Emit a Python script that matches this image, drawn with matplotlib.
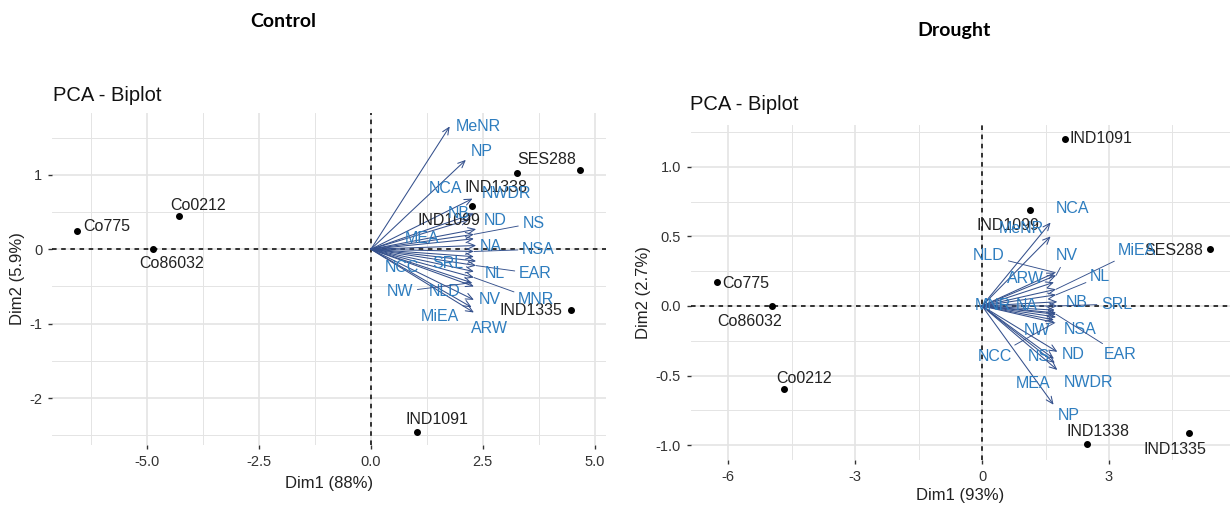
import matplotlib
matplotlib.use("Agg")
import matplotlib.pyplot as plt
from matplotlib.ticker import MultipleLocator

plt.rcParams["font.family"] = ["Liberation Sans", "DejaVu Sans"]

# ---- Control: individuals ----
ctrl_ind = ["Co775", "Co0212", "Co86032", "SES288", "IND1338", "IND1099", "IND1335", "IND1091"]
ctrl_ind_x = [-6.57, -4.28, -4.86, 4.68, 3.27, 2.25, 4.46, 1.03]
ctrl_ind_y = [0.245, 0.45, 0.0, 1.07, 1.02, 0.58, -0.81, -2.45]

# ---- Control: variables (arrow tips) ----
ctrl_var = ["MeNR", "NP", "NCA", "NWDR", "NB", "ND", "NS", "MEA", "NA", "NSA",
            "NCC", "SRL", "EAR", "NL", "MNR", "NLD", "NW", "NV", "MiEA", "ARW"]
ctrl_var_x = [1.76, 2.12, 2.27, 2.30, 2.20, 2.35, 2.30, 2.30, 2.35, 2.30,
              2.30, 2.35, 2.35, 2.30, 2.30, 2.30, 2.25, 2.30, 2.25, 2.30]
ctrl_var_y = [1.65, 1.20, 0.68, 0.48, 0.40, 0.27, 0.20, 0.14, 0.05, -0.03,
              -0.10, -0.16, -0.22, -0.30, -0.38, -0.50, -0.45, -0.68, -0.78, -0.85]

# ---- Drought: individuals ----
dr_ind = ["Co775", "Co86032", "Co0212", "IND1091", "IND1099", "SES288", "IND1338", "IND1335"]
dr_ind_x = [-6.27, -4.97, -4.68, 1.95, 1.13, 5.39, 2.49, 4.88]
dr_ind_y = [0.17, 0.0, -0.60, 1.20, 0.69, 0.41, -0.99, -0.91]

# ---- Drought: variables (arrow tips) ----
dr_var = ["NCA", "MeNR", "NLD", "NV", "ARW", "MiEA", "NL", "NB", "SRL", "NA",
          "MNR", "NSA", "EAR", "NW", "NCC", "ND", "NS", "NWDR", "MEA", "NP"]
dr_var_x = [1.62, 1.62, 1.73, 1.75, 1.70, 1.75, 1.75, 1.78, 1.78, 1.72,
            1.75, 1.75, 1.75, 1.70, 1.72, 1.78, 1.72, 1.78, 1.70, 1.69]
dr_var_y = [0.60, 0.50, 0.24, 0.22, 0.17, 0.12, 0.08, 0.03, 0.00, -0.03,
            -0.05, -0.08, -0.06, -0.10, -0.12, -0.33, -0.41, -0.46, -0.38, -0.71]

# label placement (repelled positions) and which get a segment
ctrl_ind_lab = {"Co775": (-5.89, 0.31), "Co0212": (-3.87, 0.59), "Co86032": (-4.44, -0.19),
                "SES288": (3.92, 1.21), "IND1338": (2.80, 0.83), "IND1099": (1.75, 0.38),
                "IND1335": (3.58, -0.82), "IND1091": (1.47, -2.29)}
ctrl_var_lab = {"MeNR": (2.39, 1.65), "NP": (2.48, 1.31), "NCA": (1.67, 0.82), "NWDR": (3.02, 0.75),
                "NB": (1.97, 0.48), "ND": (2.77, 0.38), "NS": (3.63, 0.35), "MEA": (1.15, 0.15),
                "NA": (2.68, 0.03), "NSA": (3.74, 0.0), "NCC": (0.70, -0.24), "SRL": (1.71, -0.19),
                "EAR": (3.67, -0.33), "NL": (2.77, -0.33), "MNR": (3.69, -0.68), "NLD": (1.64, -0.57),
                "NW": (0.65, -0.57), "NV": (2.65, -0.68), "MiEA": (1.53, -0.91), "ARW": (2.65, -1.06)}
ctrl_seg = {"NS", "NSA", "EAR", "MNR", "NW"}

dr_ind_lab = {"Co775": (-5.59, 0.16), "Co86032": (-5.50, -0.115), "Co0212": (-4.20, -0.52),
              "IND1091": (2.80, 1.20), "IND1099": (0.62, 0.58), "SES288": (4.52, 0.40),
              "IND1338": (2.75, -0.90), "IND1335": (4.56, -1.03)}
dr_var_lab = {"NCA": (2.14, 0.70), "MeNR": (0.93, 0.56), "NLD": (0.15, 0.36), "NV": (2.0, 0.36),
              "ARW": (1.02, 0.20), "MiEA": (3.66, 0.40), "NL": (2.79, 0.21), "NB": (2.24, 0.026),
              "SRL": (3.18, 0.014), "NA": (1.05, 0.0), "MNR": (0.25, 0.0), "NSA": (2.32, -0.17),
              "EAR": (3.26, -0.35), "NW": (1.29, -0.18), "NCC": (0.31, -0.36), "ND": (2.16, -0.35),
              "NS": (1.33, -0.36), "NWDR": (2.51, -0.55), "MEA": (1.20, -0.56), "NP": (2.04, -0.79)}
dr_seg = {"NLD", "NV", "MiEA", "NL", "SRL", "EAR", "NCC"}

ARROW = "#34508C"
VTEXT = "#2E7DBF"
GRID = "#E4E4E4"


def biplot(ax, ind, ix, iy, ind_lab, var, vx, vy, var_lab, seg, xlim, ylim, xmaj, xmin, ymaj, ymin, xfmt, yfmt):
    ax.set_xlim(*xlim)
    ax.set_ylim(*ylim)
    ax.xaxis.set_major_locator(MultipleLocator(xmaj))
    ax.xaxis.set_minor_locator(MultipleLocator(xmin))
    ax.yaxis.set_major_locator(MultipleLocator(ymaj))
    ax.yaxis.set_minor_locator(MultipleLocator(ymin))
    ax.xaxis.set_major_formatter(xfmt)
    ax.yaxis.set_major_formatter(yfmt)
    ax.grid(True, which="major", color=GRID, linewidth=1.2)
    ax.grid(True, which="minor", color=GRID, linewidth=0.7)
    ax.set_axisbelow(True)
    for s in ax.spines.values():
        s.set_visible(False)
    ax.tick_params(which="major", length=3, width=1.0, color="#333333", labelsize=10.5,
                   labelcolor="#333333", pad=4)
    ax.tick_params(which="minor", length=0)
    ax.axhline(0, color="black", linestyle=(0, (3, 3)), linewidth=1.1, zorder=1)
    ax.axvline(0, color="black", linestyle=(0, (3, 3)), linewidth=1.1, zorder=1)

    ax.scatter(ix, iy, s=16, color="black", zorder=3)
    for name, x, y in zip(ind, ix, iy):
        ax.text(*ind_lab[name], name, ha="center", va="center", fontsize=11.5, color="#222222", zorder=4)

    for name, x, y in zip(var, vx, vy):
        ax.annotate("", xy=(x, y), xytext=(0, 0),
                    arrowprops=dict(arrowstyle="->,head_length=0.5,head_width=0.22", color=ARROW,
                                    lw=0.75, shrinkA=0, shrinkB=0), zorder=2)
    for name, x, y in zip(var, vx, vy):
        props = None
        if name in seg:
            props = dict(arrowstyle="-", color=ARROW, lw=0.65, shrinkA=1, shrinkB=0)
        ax.annotate(name, xy=(x, y), xytext=var_lab[name], ha="center", va="center",
                    fontsize=11.5, color=VTEXT, arrowprops=props, zorder=4)


fig = plt.figure(figsize=(12.3, 5.09), dpi=100)

ax1 = fig.add_axes([0.0423, 0.1257, 0.4504, 0.6523])
biplot(ax1, ctrl_ind, ctrl_ind_x, ctrl_ind_y, ctrl_ind_lab,
       ctrl_var, ctrl_var_x, ctrl_var_y, ctrl_var_lab, ctrl_seg,
       (-7.12, 5.25), (-2.63, 1.83), 2.5, 1.25, 1, 0.5,
       lambda v, p: f"{v:.1f}", lambda v, p: f"{v:.0f}")
ax1.set_xlabel("Dim1 (88%)", fontsize=12, color="#222222", labelpad=5)
ax1.set_ylabel("Dim2 (5.9%)", fontsize=12, color="#222222", labelpad=3)

ax2 = fig.add_axes([0.5614, 0.0963, 0.4386, 0.658])
biplot(ax2, dr_ind, dr_ind_x, dr_ind_y, dr_ind_lab,
       dr_var, dr_var_x, dr_var_y, dr_var_lab, dr_seg,
       (-6.89, 5.86), (-1.107, 1.30), 3, 1.5, 0.5, 0.25,
       lambda v, p: f"{v:.0f}", lambda v, p: f"{v:.1f}")
ax2.set_xlabel("Dim1 (93%)", fontsize=12, color="#222222", labelpad=3)
ax2.set_ylabel("Dim2 (2.7%)", fontsize=12, color="#222222", labelpad=3)

fig.text(0.0431, 0.813, "PCA - Biplot", fontsize=14.5, color="#111111", va="center", ha="left")
fig.text(0.561, 0.794, "PCA - Biplot", fontsize=14.5, color="#111111", va="center", ha="left")
fig.text(0.230, 0.957, "Control", fontsize=14, fontweight="bold", family="Lato", ha="center", va="center")
fig.text(0.776, 0.941, "Drought", fontsize=14, fontweight="bold", family="Lato", ha="center", va="center")

fig.savefig("out.png", dpi=100)
